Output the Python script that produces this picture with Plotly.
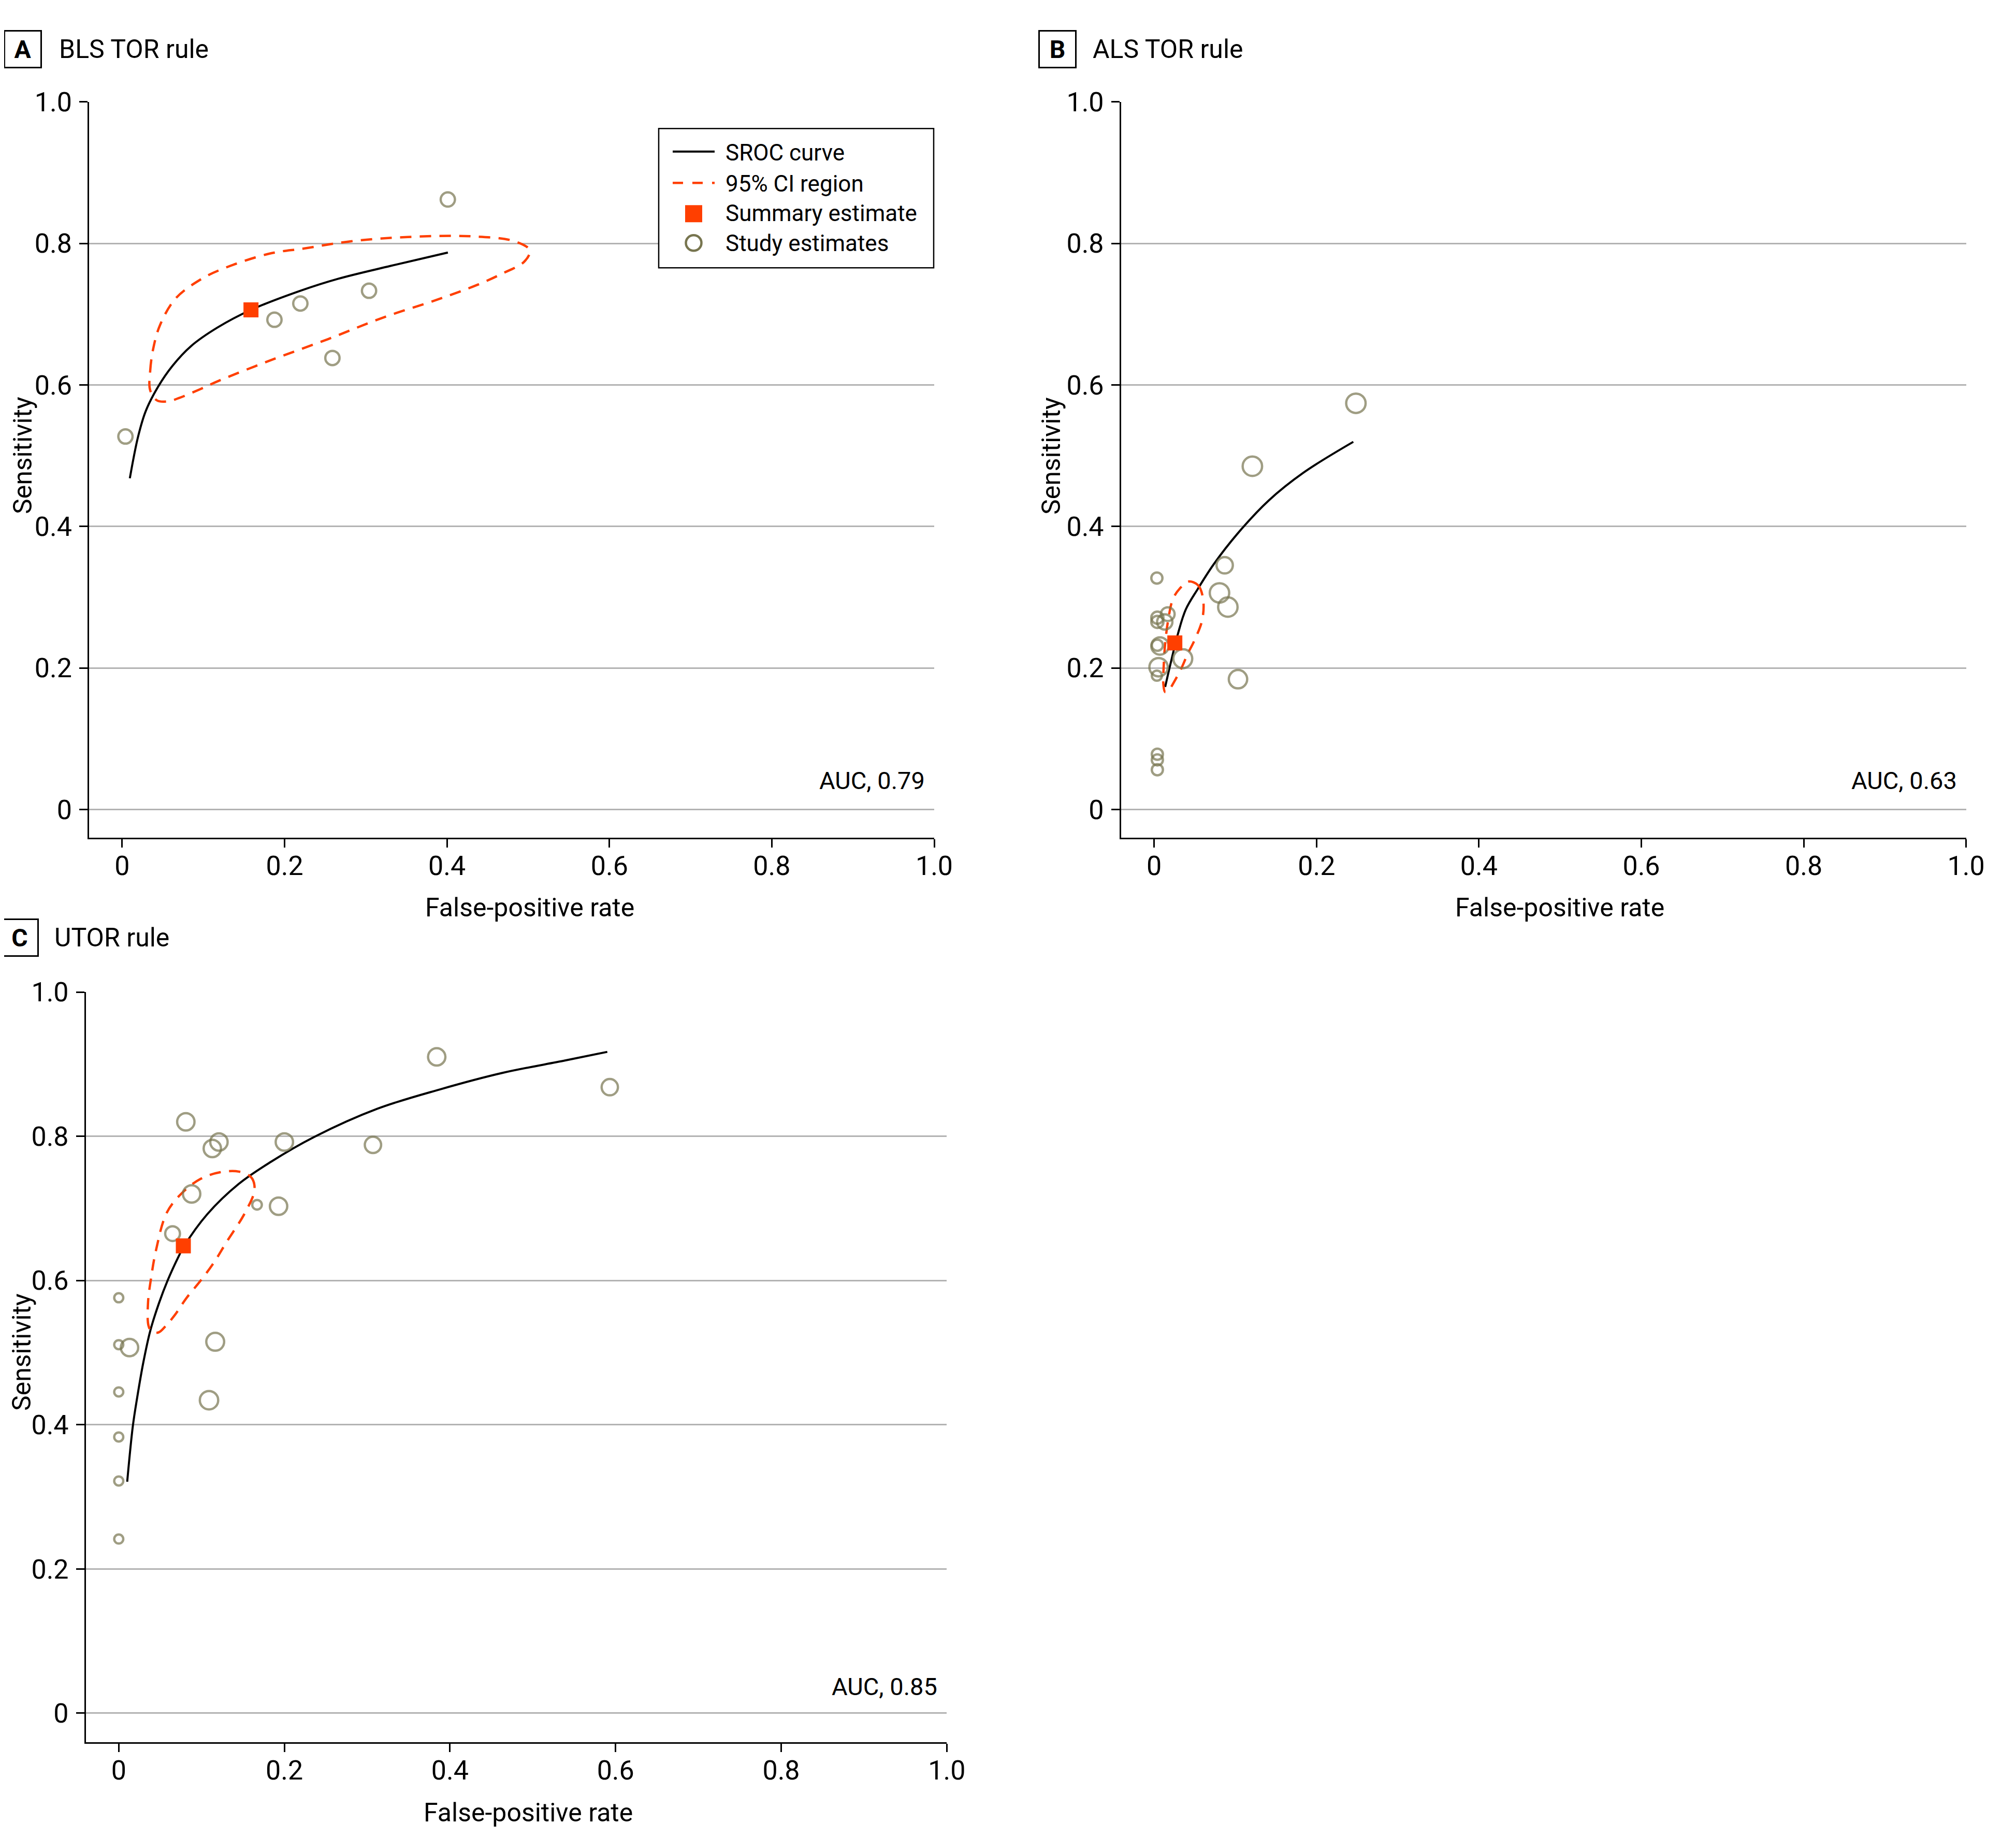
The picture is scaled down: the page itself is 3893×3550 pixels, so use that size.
import plotly.graph_objects as go

W, H = 3893, 3550
OFF = 8  # page body margin of the written html
FONT = "Roboto, 'Open Sans', sans-serif"
ORANGE = "#FF3F00"
OLIVE = "#77754F"
GRID = "#B3B3B3"

# ---------------- data ----------------
tick_vals = [0, 0.2, 0.4, 0.6, 0.8, 1.0]
tick_text = ["0", "0.2", "0.4", "0.6", "0.8", "1.0"]

# Panel A: BLS TOR rule
a_study_fpr = [0.004, 0.1875, 0.2194, 0.304, 0.2589, 0.401]
a_study_sens = [0.527, 0.692, 0.715, 0.733, 0.638, 0.862]
a_summary = (0.1586, 0.706)
a_sroc_fpr = [0.0094, 0.0196, 0.029, 0.044, 0.062, 0.085, 0.1173, 0.1586, 0.2194, 0.2661, 0.330, 0.4011]
a_sroc_sens = [0.468, 0.527, 0.563, 0.597, 0.627, 0.655, 0.681, 0.706, 0.733, 0.750, 0.768, 0.787]
a_ci_fpr = [0.0344, 0.0345, 0.038, 0.0464, 0.0657, 0.0966, 0.1237, 0.181, 0.2237, 0.282, 0.352, 0.429,
            0.483, 0.502, 0.495, 0.4675, 0.4366, 0.3895, 0.321, 0.2534, 0.181, 0.1195, 0.096, 0.0706,
            0.0568, 0.0429, 0.0344]
a_ci_sens = [0.5927, 0.620, 0.650, 0.684, 0.722, 0.749, 0.764, 0.7854, 0.7927, 0.803, 0.809, 0.810,
             0.803, 0.790, 0.774, 0.757, 0.741, 0.721, 0.695, 0.6646, 0.634, 0.606, 0.5939, 0.5817,
             0.5768, 0.578, 0.5927]
a_auc = "AUC, 0.79"

# Panel B: ALS TOR rule
b_study_fpr = [0.0034, 0.0168, 0.004, 0.004, 0.0131, 0.004, 0.0072, 0.0055, 0.0034, 0.0353,
               0.0869, 0.0805, 0.0908, 0.1033, 0.004, 0.004, 0.004, 0.121, 0.2485]
b_study_sens = [0.327, 0.276, 0.271, 0.265, 0.265, 0.232, 0.231, 0.201, 0.189, 0.213,
                0.345, 0.306, 0.286, 0.184, 0.078, 0.070, 0.056, 0.485, 0.574]
b_summary = (0.0255, 0.2353)
b_sroc_fpr = [0.0136, 0.020, 0.0295, 0.0391, 0.054, 0.0731, 0.1029, 0.1411, 0.1835, 0.2453]
b_sroc_sens = [0.1731, 0.2049, 0.2488, 0.2829, 0.312, 0.346, 0.390, 0.4366, 0.4756, 0.5195]
b_ci_fpr = [0.0423, 0.054, 0.0603, 0.0593, 0.0497, 0.0412, 0.0338, 0.0253, 0.0179, 0.0136,
            0.0115, 0.0119, 0.0136, 0.0174, 0.0232, 0.0316, 0.0423]
b_ci_sens = [0.322, 0.317, 0.2975, 0.2683, 0.239, 0.2195, 0.200, 0.1817, 0.1683, 0.1658,
             0.1756, 0.2049, 0.2342, 0.2683, 0.2975, 0.3122, 0.322]
b_auc = "AUC, 0.63"

# Panel C: UTOR rule
c_study_fpr = [0.0, 0.0, 0.013, 0.0, 0.0, 0.0, 0.0, 0.065, 0.088, 0.081, 0.113, 0.121, 0.200,
               0.167, 0.193, 0.307, 0.384, 0.593, 0.1165, 0.109]
c_study_sens = [0.576, 0.511, 0.507, 0.4455, 0.383, 0.322, 0.2415, 0.665, 0.720, 0.820, 0.783, 0.792,
                0.792, 0.705, 0.703, 0.788, 0.910, 0.868, 0.515, 0.434]
c_summary = (0.078, 0.648)
c_sroc_fpr = [0.0102, 0.017, 0.0223, 0.0296, 0.038, 0.0484, 0.059, 0.0734, 0.078, 0.107, 0.145,
              0.183, 0.236, 0.312, 0.388, 0.464, 0.539, 0.590]
c_sroc_sens = [0.321, 0.398, 0.438, 0.486, 0.530, 0.568, 0.600, 0.636, 0.646, 0.692, 0.734,
               0.764, 0.799, 0.838, 0.865, 0.888, 0.905, 0.917]
c_ci_fpr = [0.145, 0.160, 0.164, 0.1525, 0.130, 0.115, 0.099, 0.082, 0.067, 0.0567, 0.048, 0.040,
            0.036, 0.0354, 0.039, 0.045, 0.058, 0.077, 0.099, 0.122, 0.145]
c_ci_sens = [0.751, 0.743, 0.726, 0.694, 0.653, 0.625, 0.600, 0.576, 0.551, 0.537, 0.528, 0.529,
             0.537, 0.570, 0.603, 0.642, 0.694, 0.722, 0.741, 0.750, 0.751]
c_auc = "AUC, 0.85"

# marker diameters (style, px, outer)
a_marker_d = [32, 32, 32, 32, 32, 32]
b_marker_d = [26, 31, 28, 28, 34, 26, 38, 40, 24, 41, 36, 42, 42, 40, 26, 26, 26, 42, 42]
c_marker_d = [22, 22, 38, 22, 22, 22, 22, 33, 38, 38, 38, 38, 38, 23, 38, 36, 38, 36, 39, 40]

legend_labels = ["SROC curve", "95% CI region", "Summary estimate", "Study estimates"]

MLW = 4.5  # marker outline width


# ---------------- helpers (layout only) ----------------
def px(x):
    return (x - OFF) / W


def py(y):
    return 1 - (y - OFF) / H


panels = [
    dict(key="", title_letter="A", title="BLS TOR rule",
         dom_x=(172.3, 1804), dom_y=(196.7, 1618), xr=-0.0406, yr=-0.040,
         box_c=(43.9, 95), text_l=111.7,
         ytitle=(44, 880), xtitle=(1023, 1753),
         sx=a_study_fpr, sy=a_study_sens, sd=a_marker_d, summ=a_summary,
         cx=a_sroc_fpr, cy=a_sroc_sens, ex=a_ci_fpr, ey=a_ci_sens, auc=a_auc, auc_y=0.041),
    dict(key="2", title_letter="B", title="ALS TOR rule",
         dom_x=(2165, 3796.7), dom_y=(196.7, 1618), xr=-0.0406, yr=-0.040,
         box_c=(2041.6, 95), text_l=2108,
         ytitle=(2030, 880), xtitle=(3012, 1753),
         sx=b_study_fpr, sy=b_study_sens, sd=b_marker_d, summ=b_summary,
         cx=b_sroc_fpr, cy=b_sroc_sens, ex=b_ci_fpr, ey=b_ci_sens, auc=b_auc, auc_y=0.041),
    dict(key="3", title_letter="C", title="UTOR rule",
         dom_x=(166, 1828.3), dom_y=(1916, 3364.7), xr=-0.0396, yr=-0.040,
         box_c=(37.5, 1811), text_l=103,
         ytitle=(42, 2612), xtitle=(1020, 3501),
         sx=c_study_fpr, sy=c_study_sens, sd=c_marker_d, summ=c_summary,
         cx=c_sroc_fpr, cy=c_sroc_sens, ex=c_ci_fpr, ey=c_ci_sens, auc=c_auc, auc_y=0.037),
]

fig = go.Figure()
annotations = []
layout_axes = {}

for i, p in enumerate(panels):
    xa = "x" + p["key"]
    ya = "y" + p["key"]
    fig.add_trace(go.Scatter(x=p["cx"], y=p["cy"], xaxis=xa, yaxis=ya, mode="lines",
                             line=dict(color="black", width=4, shape="spline", smoothing=1),
                             name=legend_labels[0], showlegend=False, hoverinfo="skip"))
    fig.add_trace(go.Scatter(x=p["ex"], y=p["ey"], xaxis=xa, yaxis=ya, mode="lines",
                             line=dict(color=ORANGE, width=4.5, dash="22px,16px", shape="spline", smoothing=1),
                             name=legend_labels[1], showlegend=False, hoverinfo="skip"))
    fig.add_trace(go.Scatter(x=p["sx"], y=p["sy"], xaxis=xa, yaxis=ya, mode="markers",
                             marker=dict(symbol="circle", color="rgba(0,0,0,0)",
                                         size=[d - MLW for d in p["sd"]],
                                         line=dict(width=MLW, color=OLIVE)),
                             name=legend_labels[3], showlegend=False, cliponaxis=False))
    fig.add_trace(go.Scatter(x=[p["summ"][0]], y=[p["summ"][1]], xaxis=xa, yaxis=ya, mode="markers",
                             marker=dict(symbol="square", color=ORANGE, size=29, line=dict(width=0)),
                             name=legend_labels[2], showlegend=False, cliponaxis=False))

    axis_font = dict(family=FONT, size=52, color="black")
    layout_axes["xaxis" + p["key"]] = dict(
        domain=[px(p["dom_x"][0]), px(p["dom_x"][1])], anchor=ya, automargin=False,
        range=[p["xr"], 1.0], tickmode="array", tickvals=tick_vals, ticktext=tick_text,
        showline=True, linecolor="black", linewidth=3, ticks="outside", ticklen=16,
        tickwidth=3, tickcolor="black", showgrid=False, zeroline=False, tickfont=axis_font,
        ticklabelstandoff=-9, fixedrange=True)
    layout_axes["yaxis" + p["key"]] = dict(
        domain=[py(p["dom_y"][1]), py(p["dom_y"][0])], anchor=xa, automargin=False,
        range=[p["yr"], 1.0], tickmode="array", tickvals=tick_vals, ticktext=tick_text,
        showline=True, linecolor="black", linewidth=3, ticks="outside", ticklen=16,
        tickwidth=3, tickcolor="black", showgrid=True, gridcolor=GRID, gridwidth=3,
        zeroline=False, tickfont=axis_font, ticklabelstandoff=4, fixedrange=True)

    # panel letter box
    annotations.append(dict(xref="paper", yref="paper", x=px(p["box_c"][0]), y=py(p["box_c"][1]),
                            xanchor="center", yanchor="middle", text="<b>%s</b>" % p["title_letter"],
                            showarrow=False, font=dict(family=FONT, size=48, color="black"),
                            bordercolor="black", borderwidth=3, borderpad=2, width=64, height=64))
    annotations.append(dict(xref="paper", yref="paper", x=px(p["text_l"]), y=py(p["box_c"][1]),
                            xanchor="left", yanchor="middle", text=p["title"], showarrow=False,
                            font=dict(family=FONT, size=50, color="black")))
    # axis titles
    annotations.append(dict(xref="paper", yref="paper", x=px(p["ytitle"][0]), y=py(p["ytitle"][1]),
                            xanchor="center", yanchor="middle", text="Sensitivity", textangle=-90,
                            showarrow=False, font=dict(family=FONT, size=50, color="black")))
    annotations.append(dict(xref="paper", yref="paper", x=px(p["xtitle"][0]), y=py(p["xtitle"][1]),
                            xanchor="center", yanchor="middle", text="False-positive rate",
                            showarrow=False, font=dict(family=FONT, size=50, color="black")))
    # AUC
    annotations.append(dict(xref=xa, yref=ya, x=0.99, y=p["auc_y"], xanchor="right", yanchor="middle",
                            text=p["auc"], showarrow=False, font=dict(family=FONT, size=47, color="black")))

# ---------------- legend (panel A) ----------------
shapes = []
shapes.append(dict(type="rect", xref="paper", yref="paper", x0=px(1272), x1=px(1803),
                   y0=py(517.3), y1=py(248.3), line=dict(color="black", width=2.5), fillcolor="white",
                   layer="above"))
shapes.append(dict(type="line", xref="paper", yref="paper", x0=px(1299), x1=px(1380),
                   y0=py(292.7), y1=py(292.7), line=dict(color="black", width=4), layer="above"))
shapes.append(dict(type="line", xref="paper", yref="paper", x0=px(1299), x1=px(1380),
                   y0=py(353.3), y1=py(353.3), line=dict(color=ORANGE, width=4.5, dash="20px,18px"),
                   layer="above"))
shapes.append(dict(type="rect", xref="paper", yref="paper", x0=px(1323), x1=px(1356),
                   y0=py(429.3), y1=py(396.3), line=dict(width=0), fillcolor=ORANGE, layer="above"))
shapes.append(dict(type="circle", xref="paper", yref="paper", x0=px(1324.5), x1=px(1354.5),
                   y0=py(484.3), y1=py(454.3), line=dict(color=OLIVE, width=4.5), layer="above"))
for lab, yc in zip(legend_labels, [295, 355, 412, 470]):
    annotations.append(dict(xref="paper", yref="paper", x=px(1399), y=py(yc), xanchor="left",
                            yanchor="middle", text=lab, showarrow=False,
                            font=dict(family=FONT, size=44, color="black")))

fig.update_layout(width=W, height=H, margin=dict(l=0, r=0, t=0, b=0, autoexpand=False),
                  paper_bgcolor="white", plot_bgcolor="white", showlegend=False,
                  font=dict(family=FONT, color="black"),
                  annotations=annotations, shapes=shapes, **layout_axes)

fig.write_html("out.html")
